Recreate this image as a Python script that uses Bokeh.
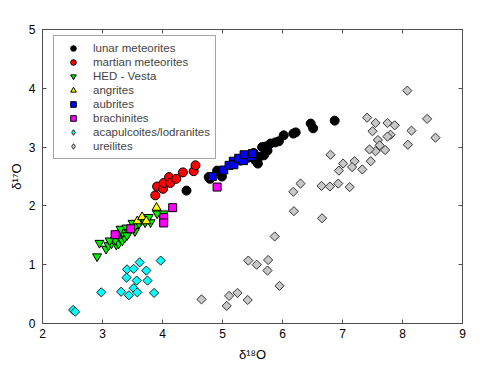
import numpy as np
from bokeh.plotting import figure
from bokeh.models import Range1d, LinearAxis, Legend, LegendItem, FixedTicker
from bokeh.embed import file_html
from bokeh.resources import INLINE

# ---- data (delta18O, delta17O) ----
lunar_x = [4.40, 4.77, 4.79, 4.91, 4.99, 5.30, 5.43, 5.52, 5.55, 5.59, 5.61, 5.66, 5.69, 5.72, 5.75,
           5.80, 5.88, 5.94, 6.02, 6.18, 6.22, 6.47, 6.51, 6.87]
lunar_y = [2.26, 2.49, 2.46, 2.60, 2.50, 2.77, 2.82, 2.90, 2.77, 2.72, 2.83, 3.00, 2.86, 3.01, 2.94,
           3.06, 3.08, 3.10, 3.20, 3.23, 3.25, 3.40, 3.32, 3.45]

martian_x = [3.88, 3.91, 4.01, 4.02, 4.11, 4.13, 4.23, 4.34, 4.52, 4.55]
martian_y = [2.18, 2.33, 2.29, 2.39, 2.49, 2.39, 2.46, 2.57, 2.59, 2.69]

hed_x = [2.91, 2.95, 3.06, 3.10, 3.15, 3.23, 3.27, 3.21, 3.29, 3.33, 3.37, 3.27, 3.34, 3.30, 3.40,
         3.44, 3.54, 3.55, 3.50, 3.61, 3.65, 3.71, 3.75, 3.80, 3.77, 3.91, 4.02, 3.12, 3.41]
hed_y = [1.14, 1.37, 1.27, 1.33, 1.36, 1.34, 1.36, 1.42, 1.46, 1.41, 1.46, 1.53, 1.55, 1.61, 1.63,
         1.55, 1.57, 1.67, 1.71, 1.70, 1.76, 1.72, 1.78, 1.72, 1.81, 1.87, 1.87, 1.41, 1.50]

angrite_x = [3.90, 3.58, 3.66, 3.73]
angrite_y = [1.97, 1.74, 1.81, 1.74]

aubrite_x = [4.83, 5.02, 5.11, 5.18, 5.19, 5.27, 5.35, 5.36, 5.48, 5.50]
aubrite_y = [2.50, 2.61, 2.69, 2.76, 2.70, 2.81, 2.77, 2.87, 2.84, 2.89]

brachinite_x = [3.21, 3.47, 4.02, 4.02, 4.17, 4.91]
brachinite_y = [1.51, 1.61, 1.80, 1.71, 1.97, 2.32]

acapulcoite_x = [2.51, 2.545, 2.98, 3.31, 3.44, 3.52, 3.58, 3.86, 3.41, 3.52, 3.62, 3.73, 3.40,
                 3.57, 3.75, 3.97]
acapulcoite_y = [0.23, 0.20, 0.53, 0.54, 0.48, 0.60, 0.53, 0.52, 0.92, 0.93, 1.04, 0.90, 0.78,
                 0.73, 0.73, 1.07]

ureilite_x = [8.08, 7.41, 7.55, 7.50, 7.75, 7.87, 8.41, 8.15, 8.55, 8.09, 7.80, 7.75, 7.59, 7.62,
              7.55, 7.45, 7.71, 7.47, 6.80, 7.01, 7.20, 6.94, 7.16, 7.33, 6.30, 6.18, 6.65, 6.79,
              6.93, 7.12, 6.19, 6.66, 5.87, 5.43, 5.57, 5.76, 5.75, 5.95, 4.65, 5.11, 5.25, 5.07, 5.42]
ureilite_y = [3.96, 3.50, 3.41, 3.27, 3.41, 3.37, 3.48, 3.28, 3.16, 3.04, 3.21, 3.18, 3.12, 3.03,
              2.93, 2.96, 2.95, 2.76, 2.87, 2.72, 2.76, 2.60, 2.66, 2.62, 2.38, 2.24, 2.34, 2.33,
              2.38, 2.32, 1.91, 1.79, 1.48, 1.07, 1.00, 1.08, 0.90, 0.64, 0.41, 0.47, 0.52, 0.30, 0.40]

x_ticks = [2, 3, 4, 5, 6, 7, 8, 9]
y_ticks = [0, 1, 2, 3, 4, 5]

FONT = "Liberation Sans"
AXC = "#4d4d4d"

p = figure(width=496, height=365, x_range=Range1d(2, 9), y_range=Range1d(0, 5),
           output_backend="svg", toolbar_location=None,
           min_border_left=42, min_border_right=34, min_border_top=29, min_border_bottom=42)
p.grid.visible = False
p.outline_line_color = AXC
p.background_fill_color = "white"
p.border_fill_color = "white"

for ax in (p.xaxis[0], p.yaxis[0]):
    ax.axis_line_color = AXC
    ax.major_tick_line_color = AXC
    ax.major_tick_in = 4
    ax.major_tick_out = 0
    ax.minor_tick_line_color = None
    ax.major_label_text_font = FONT
    ax.major_label_text_font_size = "12px"
    ax.major_label_text_color = "black"
    ax.axis_label_text_font = FONT
    ax.axis_label_text_font_size = "13px"
    ax.axis_label_text_font_style = "normal"
    ax.axis_label_text_color = "black"

p.xaxis[0].ticker = FixedTicker(ticks=x_ticks)
p.yaxis[0].ticker = FixedTicker(ticks=y_ticks)
p.xaxis[0].axis_label = "δ¹⁸O"
p.yaxis[0].axis_label = "δ¹⁷O"
p.xaxis[0].major_label_standoff = 5
p.xaxis[0].axis_label_standoff = 6
p.yaxis[0].major_label_standoff = 7
p.yaxis[0].axis_label_standoff = 2

top_ax = LinearAxis(ticker=FixedTicker(ticks=x_ticks))
right_ax = LinearAxis(ticker=FixedTicker(ticks=y_ticks))
for ax in (top_ax, right_ax):
    ax.axis_line_color = AXC
    ax.major_tick_line_color = AXC
    ax.major_tick_in = 4
    ax.major_tick_out = 0
    ax.minor_tick_line_color = None
    ax.major_label_text_color = None
    ax.major_label_text_font_size = "9px"
    ax.major_label_standoff = 0
p.add_layout(top_ax, "above")
p.add_layout(right_ax, "right")

SQ45 = np.pi / 4
r_lunar = p.scatter(lunar_x, lunar_y, marker="circle", size=9, fill_color="black", line_color="black")
r_mars = p.scatter(martian_x, martian_y, marker="circle", size=9, fill_color="#ff0000", line_color="black")
r_hed = p.scatter(hed_x, hed_y, marker="inverted_triangle", size=9, fill_color="#00ee00", line_color="black")
r_ang = p.scatter(angrite_x, angrite_y, marker="triangle", size=9, fill_color="#ffff00", line_color="black")
r_aub = p.scatter(aubrite_x, aubrite_y, marker="square", size=8, fill_color="#0000ff", line_color="black")
r_bra = p.scatter(brachinite_x, brachinite_y, marker="square", size=8, fill_color="#ff00ff", line_color="black")
r_aca = p.scatter(acapulcoite_x, acapulcoite_y, marker="square", angle=SQ45, size=6.5,
                  fill_color="#00ffff", line_color="#222222")
r_ure = p.scatter(ureilite_x, ureilite_y, marker="square", angle=SQ45, size=6.5,
                  fill_color="#c8c8c8", line_color="#333333")
# legend-only proxies (NaN position, nothing drawn in the plot) so the legend shows diamonds
l_aca = p.scatter([np.nan], [np.nan], marker="diamond", size=9, fill_color="#00ffff", line_color="#222222")
l_ure = p.scatter([np.nan], [np.nan], marker="diamond", size=9, fill_color="#c8c8c8", line_color="#333333")

legend = Legend(items=[
    LegendItem(label="lunar meteorites", renderers=[r_lunar]),
    LegendItem(label="martian meteorites", renderers=[r_mars]),
    LegendItem(label="HED - Vesta", renderers=[r_hed]),
    LegendItem(label="angrites", renderers=[r_ang]),
    LegendItem(label="aubrites", renderers=[r_aub]),
    LegendItem(label="brachinites", renderers=[r_bra]),
    LegendItem(label="acapulcoites/lodranites", renderers=[l_aca]),
    LegendItem(label="ureilites", renderers=[l_ure]),
])
legend.padding = 5
legend.glyph_width = 28
legend.glyph_height = 14
legend.label_height = 14
legend.spacing = 0
legend.label_standoff = 6
legend.label_text_font = FONT
legend.label_text_font_size = "11.5px"
legend.border_line_color = AXC
legend.border_line_width = 1
legend.background_fill_alpha = 1
legend.location = (11, 164)
p.add_layout(legend, "center")

open("out.html", "w").write(file_html(p, INLINE))
